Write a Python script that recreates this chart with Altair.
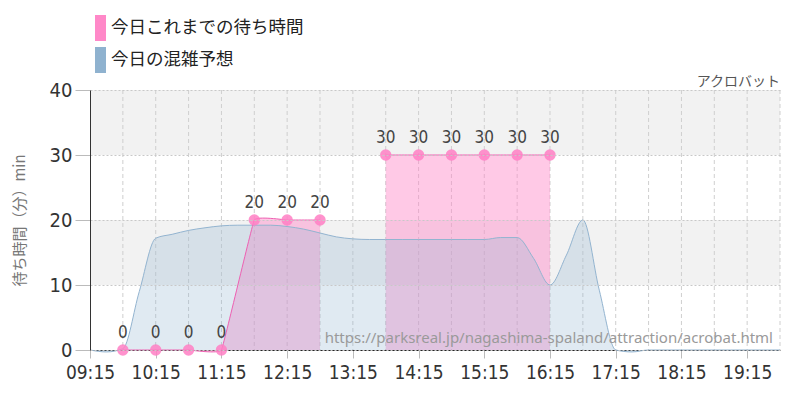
import altair as alt
import pandas as pd

# ---- data ----
series_names = ["今日これまでの待ち時間", "今日の混雑予想"]
attraction = "アクロバット"
source_url = "https://parksreal.jp/nagashima-spaland/attraction/acrobat.html"
y_title = "待ち時間（分）min"

actual_times = ["09:45", "10:15", "10:45", "11:15", "11:45", "12:15", "12:45",
                "13:45", "14:15", "14:45", "15:15", "15:45", "16:15"]
actual_wait = [0, 0, 0, 0, 20, 20, 20, 30, 30, 30, 30, 30, 30]
actual_segment = [1, 1, 1, 1, 1, 1, 1, 2, 2, 2, 2, 2, 2]

forecast_times = ["09:15", "09:30", "09:45", "10:00", "10:15", "10:30", "10:45", "11:00",
                  "11:15", "11:30", "11:45", "12:00", "12:15", "12:30", "12:45", "13:00",
                  "13:15", "13:30", "13:45", "14:00", "14:15", "14:30", "14:45", "15:00",
                  "15:15", "15:30", "15:45", "16:00", "16:15", "16:30", "16:45", "17:00",
                  "17:15", "17:30", "17:45", "18:00", "18:15", "18:30", "18:45", "19:00",
                  "19:15", "19:30", "19:45"]
forecast_wait = [0, -0.3, 0.2, 9, 17.2, 17.8, 18.4, 18.8,
                 19.1, 19.2, 19.2, 19.2, 19.0, 18.6, 18.0, 17.4,
                 17.1, 17.0, 17.0, 17.0, 17.0, 17.0, 17.0, 17.0,
                 17.0, 17.3, 17.3, 14.1, 10.0, 14.6, 20.0, 9.2,
                 0.0, -0.3, 0, 0, 0, 0, 0, 0,
                 0, 0, 0]

grid_times = ["09:45", "10:15", "10:45", "11:15", "11:45", "12:15", "12:45", "13:15",
              "13:45", "14:15", "14:45", "15:15", "15:45", "16:15", "16:45", "17:15",
              "17:45", "18:15", "18:45", "19:15", "19:45"]
hour_ticks = ["09:15", "10:15", "11:15", "12:15", "13:15", "14:15", "15:15",
              "16:15", "17:15", "18:15", "19:15"]
y_ticks = [0, 10, 20, 30, 40]
band_low = [10, 30]
band_high = [20, 40]
x_start, x_end = "09:15", "19:45"


def to_min(t):
    h, m = t.split(":")
    return int(h) * 60 + int(m)


actual = pd.DataFrame({
    "t": [to_min(t) for t in actual_times],
    "wait": actual_wait,
    "seg": actual_segment,
    "series": series_names[0],
    "label": [str(v) for v in actual_wait],
})
forecast = pd.DataFrame({
    "t": [to_min(t) for t in forecast_times],
    "wait": forecast_wait,
    "series": series_names[1],
})
grid_df = pd.DataFrame({"t": [to_min(t) for t in grid_times]})
bands = pd.DataFrame({"lo": band_low, "hi": band_high})

NUM_FONT = "'DejaVu Sans Condensed', 'Liberation Sans Narrow', Roboto, sans-serif"
JP_FONT = "Noto Sans CJK JP"

x_scale = alt.Scale(domain=[to_min(x_start), to_min(x_end)], nice=False, zero=False)
y_scale = alt.Scale(domain=[0, 40], nice=False)

label_expr = ("(floor(datum.value/60) < 10 ? '0' : '') + floor(datum.value/60) + ':' + "
              "(datum.value % 60 < 10 ? '0' : '') + (datum.value % 60)")

x_axis = alt.Axis(values=[to_min(t) for t in hour_ticks], labelExpr=label_expr, grid=False,
                  title=None, tickColor="#bbbbbb", tickSize=8, domainColor="#222222",
                  labelFont=NUM_FONT, labelFontSize=19, labelColor="#333333",
                  labelPadding=5, labelFlush=False, labelOverlap=False)
y_axis = alt.Axis(values=y_ticks, title=y_title, titleFont=JP_FONT, titleFontSize=15,
                  titleFontWeight="normal", titleColor="#777777", titlePadding=22,
                  labelFont=NUM_FONT, labelFontSize=20, labelColor="#333333",
                  labelPadding=3, tickColor="#bbbbbb", tickSize=15,
                  domainColor="#333333", gridColor="#c8c8c8", gridDash=[2, 2],
                  zindex=1)

color_scale = alt.Scale(domain=series_names, range=["#ff88c8", "#8fb2cf"])
legend = alt.Legend(orient="none", legendX=-10, legendY=-75, title=None,
                    direction="vertical", labelFont=JP_FONT, labelFontSize=17.5,
                    labelColor="#222222", symbolType="M0.154,-1H1V1H0.154Z",
                    symbolSize=676, symbolOpacity=1, symbolStrokeWidth=0,
                    rowPadding=6, labelOffset=5, padding=0, labelLimit=400)

band_layer = alt.Chart(bands).mark_rect(color="#f2f2f2").encode(
    y=alt.Y("lo:Q", scale=y_scale, axis=y_axis), y2="hi:Q")

vgrid = alt.Chart(grid_df).mark_rule(color="#cfcfcf", strokeDash=[4, 3], strokeWidth=1).encode(
    x=alt.X("t:Q", scale=x_scale, axis=x_axis))

pink_area = alt.Chart(actual).mark_area(opacity=0.45, interpolate="cardinal",
                                        tension=0.8).encode(
    x=alt.X("t:Q", scale=x_scale, axis=x_axis),
    y=alt.Y("wait:Q", scale=y_scale, axis=y_axis, stack=None),
    detail="seg:N",
    color=alt.Color("series:N", scale=color_scale, legend=legend))

blue_area = alt.Chart(forecast).mark_area(opacity=0.28, interpolate="monotone").encode(
    x=alt.X("t:Q", scale=x_scale, axis=x_axis),
    y=alt.Y("wait:Q", scale=y_scale, axis=y_axis, stack=None),
    color=alt.Color("series:N", scale=color_scale, legend=legend))

blue_line = alt.Chart(forecast).mark_line(color="#93b4d0", strokeWidth=1,
                                          interpolate="monotone").encode(
    x="t:Q", y="wait:Q")

pink_line = alt.Chart(actual).mark_line(color="#ee60b2", strokeWidth=1,
                                        interpolate="cardinal", tension=0.8).encode(
    x="t:Q", y="wait:Q", detail="seg:N")

pink_points = alt.Chart(actual).mark_circle(color="#ff7fc4", opacity=0.85, size=130).encode(
    x="t:Q", y="wait:Q")

point_labels = alt.Chart(actual).mark_text(font=NUM_FONT, fontSize=17, color="#444444",
                                           baseline="alphabetic", dy=-12).encode(
    x="t:Q", y="wait:Q", text="label:N")

title_text = alt.Chart(pd.DataFrame({"txt": [attraction]})).mark_text(
    font=JP_FONT, fontSize=14, color="#555555", align="right", baseline="bottom").encode(
    x=alt.value(690), y=alt.value(-1), text="txt:N")

watermark = alt.Chart(pd.DataFrame({"txt": [source_url]})).mark_text(
    font="Noto Sans", fontSize=15, color="#9a9a9a", align="right",
    baseline="alphabetic").encode(
    x=alt.value(683), y=alt.value(253), text="txt:N")

chart = alt.layer(
    band_layer, vgrid, pink_area, blue_area, blue_line, pink_line, pink_points,
    point_labels, title_text, watermark
).properties(
    width=690, height=260,
    autosize=alt.AutoSizeParams(type="none"),
    padding={"left": 82, "top": 82, "right": 12, "bottom": 45},
).configure_view(stroke=None)

chart.save("out.html", embed_options={"renderer": "svg", "actions": False})
